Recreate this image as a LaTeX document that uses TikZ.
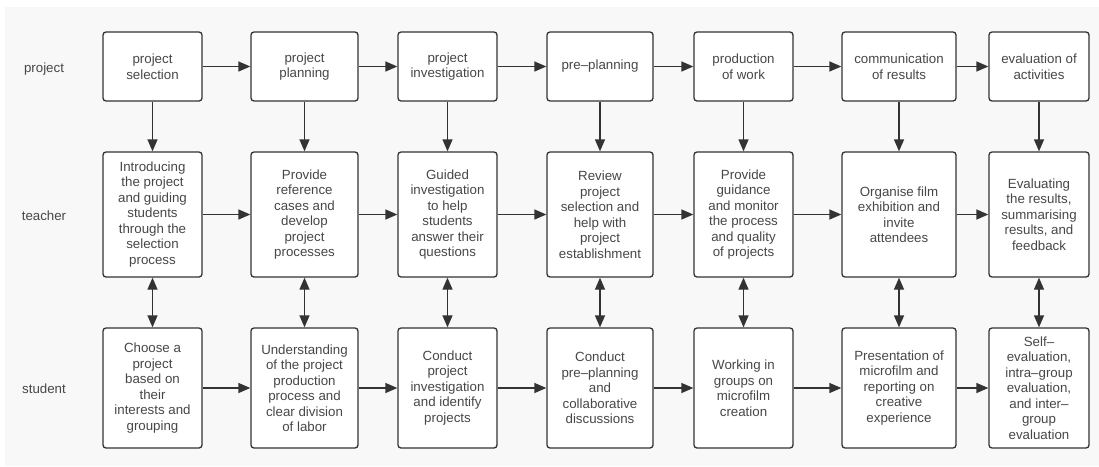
\documentclass[tikz,border=0pt]{standalone}
\usepackage{xcolor}
\usepackage{fontspec}
\setmainfont{Liberation Sans}
\usepackage{tikz}
\usetikzlibrary{arrows.meta}
\definecolor{linegray}{HTML}{333333}
\definecolor{textgray}{HTML}{474747}
\definecolor{backgray}{HTML}{F8F8F8}

\begin{document}
\begin{tikzpicture}[x=1pt,y=-1pt,
        box/.style={draw=linegray, fill=white, rounded corners=3pt, line width=1.3pt, align=center, text=textgray, font=\fontsize{13.3}{15.5}\selectfont, inner sep=2pt},
        rowlabel/.style={text=textgray, font=\fontsize{13.3}{15.5}\selectfont},
        flow/.style={-{Triangle[length=12pt,width=10pt]}, draw=linegray, line width=1.3pt},
        both/.style={{Triangle[length=12pt,width=10pt]}-{Triangle[length=12pt,width=10pt]}, draw=linegray, line width=1.3pt}]
                \useasboundingbox (0,0) rectangle (1099,466);
                \fill[backgray] (5,7) rectangle (1099,466);
                % row labels
                \node[rowlabel] (lproject) at (44,69) {project};
                \node[rowlabel] (lteacher) at (44,216) {teacher};
                \node[rowlabel] (lstudent) at (44,389) {student};
                % project row
                \node[box, minimum width=99pt, minimum height=69pt] (p1) at (152.5,66.5) {project\\selection};
                \node[box, minimum width=107pt, minimum height=69pt] (p2) at (304.5,66.5) {project\\planning};
                \node[box, minimum width=99pt, minimum height=69pt] (p3) at (447.5,66.5) {project\\investigation};
                \node[box, minimum width=106pt, minimum height=69pt] (p4) at (600,66.5) {pre--planning};
                \node[box, minimum width=99pt, minimum height=69pt] (p5) at (743.5,66.5) {production\\of work};
                \node[box, minimum width=114pt, minimum height=69pt] (p6) at (899,66.5) {communication\\of results};
                \node[box, minimum width=100pt, minimum height=69pt] (p7) at (1039,66.5) {evaluation of\\activities};
                % teacher row
                \node[box, minimum width=99pt, minimum height=125pt] (t1) at (152.5,214.5) {Introducing\\the project\\and guiding\\students\\through the\\selection\\process};
                \node[box, minimum width=107pt, minimum height=125pt] (t2) at (304.5,214.5) {Provide\\reference\\cases and\\develop\\project\\processes};
                \node[box, minimum width=99pt, minimum height=125pt] (t3) at (447.5,214.5) {Guided\\investigation\\to help\\students\\answer their\\questions};
                \node[box, minimum width=106pt, minimum height=125pt] (t4) at (600,214.5) {Review\\project\\selection and\\help with\\project\\establishment};
                \node[box, minimum width=99pt, minimum height=125pt] (t5) at (743.5,214.5) {Provide\\guidance\\and monitor\\the process\\and quality\\of projects};
                \node[box, minimum width=114pt, minimum height=125pt] (t6) at (899,214.5) {Organise film\\exhibition and\\invite\\attendees};
                \node[box, minimum width=100pt, minimum height=125pt] (t7) at (1039,214.5) {Evaluating\\the results,\\summarising\\results, and\\feedback};
                % student row
                \node[box, minimum width=99pt, minimum height=120pt] (s1) at (152.5,388) {Choose a\\project\\based on\\their\\interests and\\grouping};
                \node[box, minimum width=107pt, minimum height=120pt] (s2) at (304.5,388) {Understanding\\of the project\\production\\process and\\clear division\\of labor};
                \node[box, minimum width=99pt, minimum height=120pt] (s3) at (447.5,388) {Conduct\\project\\investigation\\and identify\\projects};
                \node[box, minimum width=106pt, minimum height=120pt] (s4) at (600,388) {Conduct\\pre--planning\\and\\collaborative\\discussions};
                \node[box, minimum width=99pt, minimum height=120pt] (s5) at (743.5,388) {Working in\\groups on\\microfilm\\creation};
                \node[box, minimum width=114pt, minimum height=120pt] (s6) at (899,388) {Presentation of\\microfilm and\\reporting on\\creative\\experience};
                \node[box, minimum width=100pt, minimum height=120pt] (s7) at (1039,388) {Self--\\evaluation,\\intra--group\\evaluation,\\and inter--\\group\\evaluation};
                % horizontal flow
                \draw[flow] (p1) -- (p2);
                \draw[flow] (p2) -- (p3);
                \draw[flow] (p3) -- (p4);
                \draw[flow] (p4) -- (p5);
                \draw[flow] (p5) -- (p6);
                \draw[flow] (p6) -- (p7);
                \draw[flow] (t1) -- (t2);
                \draw[flow] (t2) -- (t3);
                \draw[flow] (t3) -- (t4);
                \draw[flow] (t4) -- (t5);
                \draw[flow] (t5) -- (t6);
                \draw[flow] (t6) -- (t7);
                \draw[flow] (s1) -- (s2);
                \draw[flow] (s2) -- (s3);
                \draw[flow] (s3) -- (s4);
                \draw[flow] (s4) -- (s5);
                \draw[flow] (s5) -- (s6);
                \draw[flow] (s6) -- (s7);
                % project to teacher
                \draw[flow] (p1) -- (t1);
                \draw[flow] (p2) -- (t2);
                \draw[flow] (p3) -- (t3);
                \draw[flow] (p4) -- (t4);
                \draw[flow] (p5) -- (t5);
                \draw[flow] (p6) -- (t6);
                \draw[flow] (p7) -- (t7);
                % teacher and student
                \draw[both] (t1) -- (s1);
                \draw[both] (t2) -- (s2);
                \draw[both] (t3) -- (s3);
                \draw[both] (t4) -- (s4);
                \draw[both] (t5) -- (s5);
                \draw[both] (t6) -- (s6);
                \draw[both] (t7) -- (s7);
\end{tikzpicture}
\end{document}
